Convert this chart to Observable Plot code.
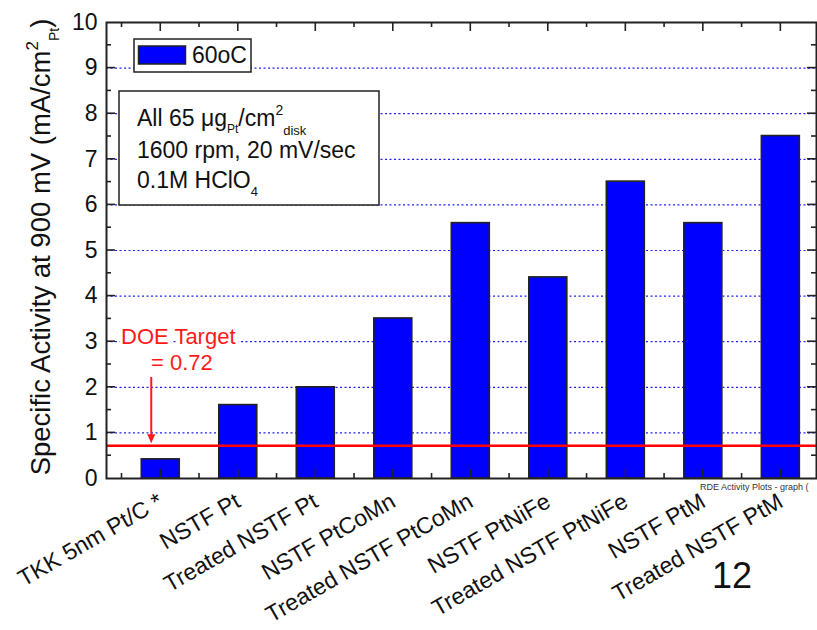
<!DOCTYPE html>
<html><head><meta charset="utf-8">
<script src="https://cdn.jsdelivr.net/npm/d3@7"></script>
<script src="https://cdn.jsdelivr.net/npm/@observablehq/plot@0.6"></script>
<style>
body{margin:0;background:#fff;font-family:"Liberation Sans",Arial,sans-serif;}
#chart{position:relative;width:817px;height:630px;}
</style></head><body><div id="chart"></div>
<script>
// ---- data ----
const categories = ["TKK 5nm Pt/C *","NSTF Pt","Treated NSTF Pt","NSTF PtCoMn","Treated NSTF PtCoMn","NSTF PtNiFe","Treated NSTF PtNiFe","NSTF PtM","Treated NSTF PtM"];
const values = [0.42, 1.61, 2.0, 3.51, 5.6, 4.41, 6.51, 5.6, 7.51];
const yTicks = [0,1,2,3,4,5,6,7,8,9,10];
const gridValues = [1,2,3,4,5,6,7,8,9];
const doeTarget = 0.72;
const seriesName = "60oC";
const positions = categories.map((c,i)=>i+1);

const data = categories.map((c,i)=>({pos:positions[i], name:c, value:values[i]}));
const halfWidth = 0.245;
const FONT = "Liberation Sans, Arial, sans-serif";

const chart = Plot.plot({
  width: 817, height: 630,
  marginLeft: 106, marginRight: 1, marginTop: 22, marginBottom: 152,
  style: {fontFamily: FONT, background: "white", color: "#111"},
  x: {domain: [0.30, 9.46]},
  y: {domain: [0, 10]},
  marks: [
    Plot.ruleY(gridValues, {stroke: "#2020ff", strokeDasharray: "2,2.5", strokeWidth: 1.2}),
    Plot.rect(data, {x1: d=>d.pos-halfWidth, x2: d=>d.pos+halfWidth, y1: 0, y2: "value", fill: "#0000ff", stroke: "#222", strokeWidth: 1.6}),
    Plot.ruleY([doeTarget], {stroke: "#ff0000", strokeWidth: 2.5}),
    Plot.axisY({ticks: yTicks, tickSize: 0, tickPadding: 9, fontSize: 23, label: null, tickFormat: d=>String(d)}),
    Plot.axisX({ticks: positions, tickFormat: i=>categories[i-1], tickRotate: -30, tickSize: 0, tickPadding: 21, fontSize: 23, label: null}),
    Plot.frame({stroke: "#222", strokeWidth: 2})
  ]
});
document.getElementById("chart").appendChild(chart);

const svg = d3.select(chart);
const xs = chart.scale("x"), ys = chart.scale("y");
const X = v=>xs.apply(v), Y = v=>ys.apply(v);
const [x0, x1] = [X(0.30), X(9.46)];
const [yb, yt] = [Y(0), Y(10)];
const g = svg.append("g").attr("stroke", "#222").attr("stroke-width", 1.6).attr("fill", "none");
// inward ticks on the y sides
for (let v = 0.5; v < 10; v += 0.5) {
  const major = Number.isInteger(v);
  const L = major ? 9 : 5;
  g.append("path").attr("d", `M${x0},${Y(v)}h${L}`);
  g.append("path").attr("d", `M${x1},${Y(v)}h${-L}`);
}
// inward ticks on the x sides
const xt = [];
positions.forEach(p=>{ xt.push([p, true]); xt.push([p - 0.5, false]); });
xt.push([positions[positions.length-1] + 0.5, false]);
xt.forEach(([p, major])=>{
  if (p <= 0.30 || p >= 9.46) return;
  const L = major ? 9 : 5;
  g.append("path").attr("d", `M${X(p)},${yb}v${-L}`);
  g.append("path").attr("d", `M${X(p)},${yt}v${L}`);
});

// y label
const yl = svg.append("text").attr("transform", `translate(50,${(yb+yt)/2 - 3}) rotate(-90)`)
  .attr("text-anchor", "middle").attr("font-size", 27.5).attr("font-family", FONT).attr("fill", "#111");
yl.append("tspan").text("Specific Activity at 900 mV (mA/cm");
yl.append("tspan").attr("font-size", 17).attr("dy", -12).text("2");
yl.append("tspan").attr("font-size", 14).attr("dy", 21).text("Pt");
yl.append("tspan").attr("dy", -9).text(")");

// legend
const leg = svg.append("g").attr("text-anchor", "start");
leg.append("rect").attr("x", 134).attr("y", 39).attr("width", 117).attr("height", 33).attr("fill", "white").attr("stroke", "#222").attr("stroke-width", 1.5);
leg.append("rect").attr("x", 138.5).attr("y", 46).attr("width", 47).attr("height", 18).attr("fill", "#0000ff").attr("stroke", "#222").attr("stroke-width", 1.5);
leg.append("text").attr("x", 192).attr("y", 63).attr("font-size", 23).attr("font-family", FONT).attr("fill", "#111").text(seriesName);

// info box
const box = svg.append("g").attr("font-family", FONT).attr("fill", "#111").attr("text-anchor", "start");
box.append("rect").attr("x", 119).attr("y", 91).attr("width", 260).attr("height", 114).attr("fill", "white").attr("stroke", "#222").attr("stroke-width", 1.5);
const t1 = box.append("text").attr("x", 137).attr("y", 126).attr("font-size", 23);
t1.append("tspan").text("All 65 \u03bcg");
t1.append("tspan").attr("font-size", 12).attr("dy", 7).text("Pt");
t1.append("tspan").attr("dy", -7).text("/cm");
t1.append("tspan").attr("font-size", 14).attr("dy", -11).text("2");
t1.append("tspan").attr("font-size", 13).attr("dy", 20).text("disk");
box.append("text").attr("x", 137).attr("y", 158).attr("font-size", 23).text("1600 rpm, 20 mV/sec");
const t3 = box.append("text").attr("x", 137).attr("y", 188).attr("font-size", 23);
t3.append("tspan").text("0.1M HClO");
t3.append("tspan").attr("font-size", 13).attr("dy", 8).text("4");

// DOE target annotation
const doe = svg.append("g").attr("font-family", FONT).attr("fill", "#ff1a1a").attr("text-anchor", "start");
doe.append("text").attr("x", 121).attr("y", 344).attr("font-size", 22)
  .attr("stroke", "white").attr("stroke-width", 6).attr("paint-order", "stroke").text("DOE Target");
doe.append("text").attr("x", 151).attr("y", 370).attr("font-size", 22).text("= 0.72");
const ax = X(1) - 9;
doe.append("line").attr("x1", ax).attr("x2", ax).attr("y1", 377).attr("y2", Y(doeTarget) - 10).attr("stroke", "#ff1a1a").attr("stroke-width", 2);
doe.append("path").attr("d", `M${ax-4},${Y(doeTarget)-11}L${ax+4},${Y(doeTarget)-11}L${ax},${Y(doeTarget)-2}Z`).attr("fill", "#ff1a1a");

// small source note and page number
const notes = svg.append("g").attr("text-anchor", "start").attr("font-family", FONT);
notes.append("text").attr("x", 700).attr("y", 490).attr("font-size", 9).attr("fill", "#333").text("RDE Activity Plots - graph (");
notes.append("text").attr("x", 712).attr("y", 588).attr("font-size", 36).attr("fill", "#111").text("12");
</script></body></html>
